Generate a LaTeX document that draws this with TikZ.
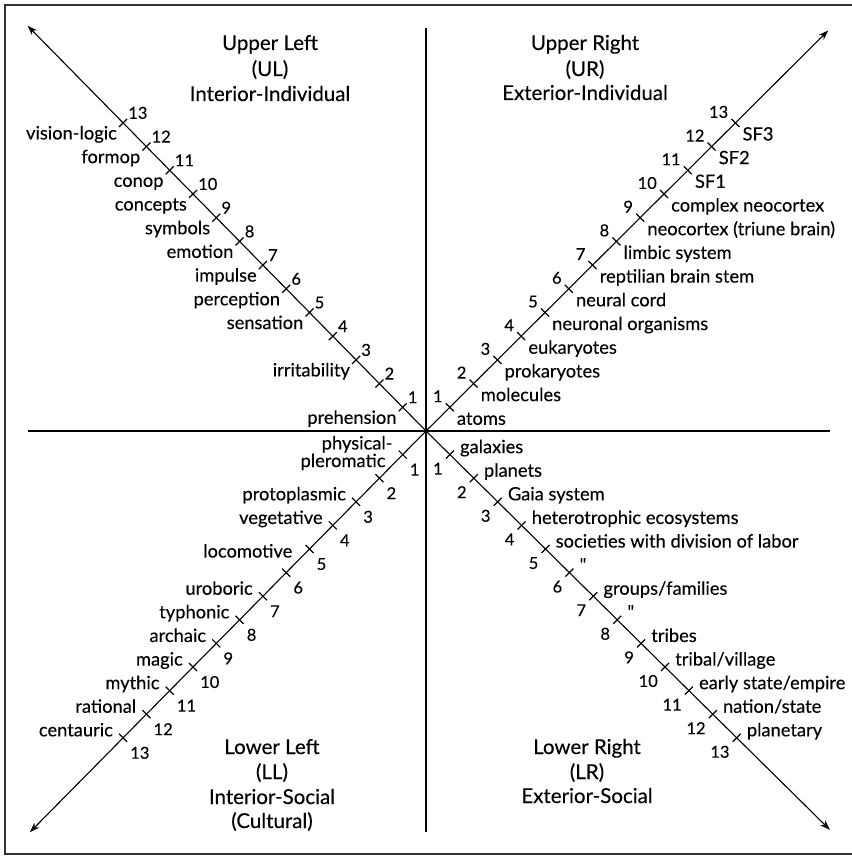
\documentclass[tikz,border=0pt]{standalone}
\usepackage{fontspec}
\setmainfont{Lato}[FakeBold=0.2]
\newfontfamily\qfont{Lato}[Ligatures=TeXOff,FakeBold=0.2]
\usetikzlibrary{calc,arrows.meta}
\begin{document}
\begin{tikzpicture}[x=1pt,y=-1pt,
  axis/.style={line width=1.2pt,black},
  diag/.style={line width=1.1pt,black,-{Stealth[length=10pt,width=7pt]}},
  tickmark/.style={line width=1.2pt,black},
  frame/.style={line width=1.3pt,black!80},
  lbl/.style={inner sep=0pt,font=\fontsize{18.3}{20}\selectfont},
  num/.style={inner sep=0pt,font=\fontsize{16.5}{19}\selectfont},
  ttl/.style={inner sep=0pt,anchor=base,font=\fontsize{20.5}{24}\selectfont}]
\useasboundingbox (0,0) rectangle (851,856);
\draw[frame] (858,5) -- (5,5) -- (5,854) -- (858,854);
\coordinate (C) at (426,431);
\coordinate (vtop) at (426,28);
\coordinate (vbot) at (426,832);
\coordinate (hl) at (28,431);
\coordinate (hr) at (830,431);
\draw[axis] (vtop) -- (vbot);
\draw[axis] (hl) -- (hr);
% tick coordinates
\foreach \i in {1,...,13}{
  \coordinate (ul\i) at ($(C)+\i*(-23.3,-23.7)$);
  \coordinate (ur\i) at ($(C)+\i*(23.8,-23.7)$);
  \coordinate (ll\i) at ($(C)+\i*(-23.3,23.6)$);
  \coordinate (lr\i) at ($(C)+\i*(23.9,23.6)$);
}
\coordinate (ulend) at ($(C)+17.1*(-23.3,-23.7)$);
\coordinate (urend) at ($(C)+16.9*(23.8,-23.7)$);
\coordinate (llend) at ($(C)+17.0*(-23.3,23.6)$);
\coordinate (lrend) at ($(C)+16.9*(23.9,23.6)$);
\draw[diag] (C) -- (ulend);
\draw[diag] (C) -- (urend);
\draw[diag] (C) -- (llend);
\draw[diag] (C) -- (lrend);
\foreach \i in {1,...,13}{
  \draw[tickmark] ($(ul\i)+(-4,4)$) -- ($(ul\i)+(4,-4)$);
  \draw[tickmark] ($(lr\i)+(-4,4)$) -- ($(lr\i)+(4,-4)$);
  \draw[tickmark] ($(ur\i)+(-4,-4)$) -- ($(ur\i)+(4,4)$);
  \draw[tickmark] ($(ll\i)+(-4,-4)$) -- ($(ll\i)+(4,4)$);
  \node[num,anchor=west] (ulnum\i) at ($(ul\i)+(5,-10)$) {\i};
  \node[num,anchor=east] (urnum\i) at ($(ur\i)+(-7,-11)$) {\i};
  \node[num,anchor=west] (llnum\i) at ($(ll\i)+(7,15)$) {\i};
  \node[num,anchor=east] (lrnum\i) at ($(lr\i)+(-7,14)$) {\i};
}
% UL labels
\foreach \i/\t in {1/prehension,3/irritability,5/sensation,6/perception,7/impulse,8/emotion,9/symbols,10/concepts,11/conop,12/formop,13/vision-logic}{
  \node[lbl,anchor=mid east] (ullbl\i) at ($(ul\i)+(-6,14)$) {\t};
}
% UR labels
\foreach \i/\t in {1/atoms,2/molecules,3/prokaryotes,4/eukaryotes,5/{neuronal organisms},6/{neural cord},7/{reptilian brain stem},8/{limbic system},9/{neocortex (triune brain)},10/{complex neocortex},11/SF1,12/SF2,13/SF3}{
  \node[lbl,anchor=mid west] (urlbl\i) at ($(ur\i)+(7,15)$) {\t};
}
% LL labels
\node[lbl,anchor=east,align=right,font=\fontsize{18.3}{13}\selectfont] (lllbl1) at ($(ll1)+(-10,-1.5)$) {physical-\\pleromatic\hspace*{7pt}};
\node[lbl,anchor=mid east] (lllbl5) at ($(ll5)+(-17,6)$) {locomotive};
\foreach \i/\t in {3/protoplasmic,4/vegetative,7/uroboric,8/typhonic,9/archaic,10/magic,11/mythic,12/rational,13/centauric}{
  \node[lbl,anchor=mid east] (lllbl\i) at ($(ll\i)+(-10,-4)$) {\t};
}
% LR labels
\foreach \i/\t in {1/galaxies,2/planets,3/{Gaia system},4/{heterotrophic ecosystems},5/{societies with division of labor},6/{\qfont"},7/{groups/families},8/{\qfont"},9/tribes,10/{tribal/village},11/{early state/empire},12/{nation/state},13/planetary}{
  \node[lbl,anchor=mid west] (lrlbl\i) at ($(lr\i)+(10,-4)$) {\t};
}
% titles
\node[ttl] (ulA) at (270,50) {Upper Left};
\node[ttl] (ulB) at (270,76) {(UL)};
\node[ttl] (ulC) at (270,101) {Interior-Individual};
\node[ttl] (urA) at (585,50) {Upper Right};
\node[ttl] (urB) at (585,76) {(UR)};
\node[ttl] (urC) at (585,100) {Exterior-Individual};
\node[ttl] (llA) at (272,754) {Lower Left};
\node[ttl] (llB) at (272,779) {(LL)};
\node[ttl] (llC) at (272,804) {Interior-Social};
\node[ttl] (llD) at (272,828) {(Cultural)};
\node[ttl] (lrA) at (587,754) {Lower Right};
\node[ttl] (lrB) at (587,779) {(LR)};
\node[ttl] (lrC) at (587,803) {Exterior-Social};
\end{tikzpicture}
\end{document}
